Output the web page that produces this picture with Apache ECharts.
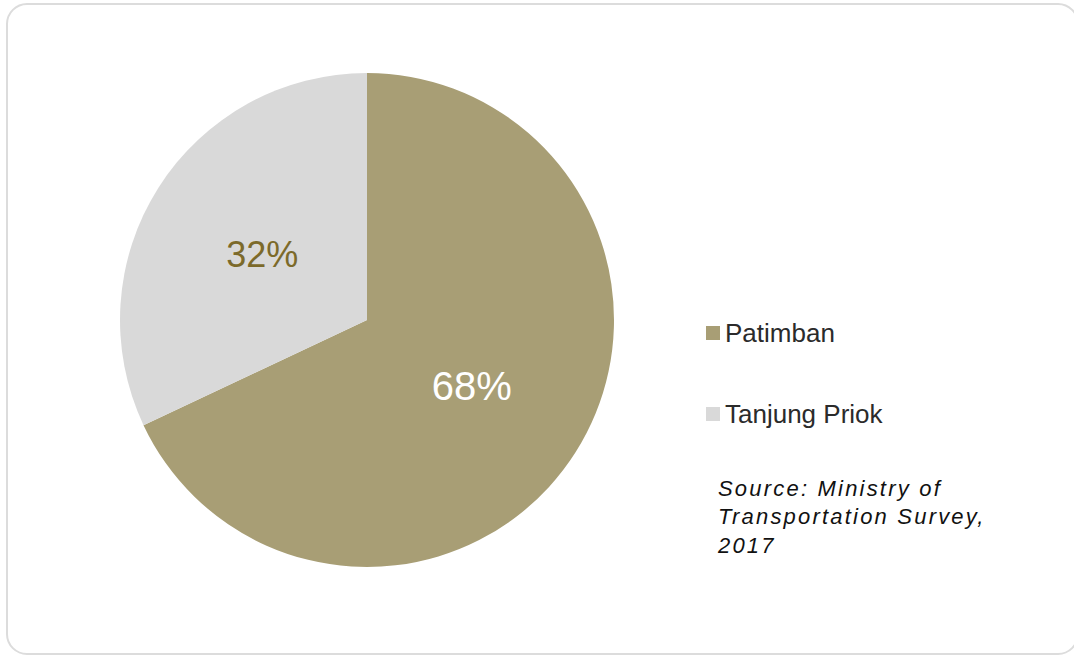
<!DOCTYPE html>
<html>
<head>
<meta charset="utf-8">
<script src="https://cdn.jsdelivr.net/npm/echarts@6/dist/echarts.min.js"></script>
<style>
html,body{margin:0;padding:0;background:#fff;}
#chart{width:1074px;height:655px;}
</style>
</head>
<body>
<div id="chart"></div>
<script>
const categories = ['Patimban', 'Tanjung Priok'];
const values = [68, 32];
const colors = ['#A89E75', '#D9D9D9'];
const labelColors = ['#FFFFFF', '#7C6A2A'];
const labelSizes = [40, 36];
const sourceLines = ['Source: Ministry of', 'Transportation Survey,', '2017'];

const chart = echarts.init(document.getElementById('chart'), null, {renderer: 'svg'});
const FONT = '"Liberation Sans", Arial, Helvetica, sans-serif';

const data = categories.map((c, i) => ({
  name: c,
  value: values[i],
  itemStyle: {color: colors[i]},
  label: {color: labelColors[i], fontSize: labelSizes[i], offset: i === 1 ? [2, 2] : [-2, -2]}
}));

const option = {
  animation: false,
  backgroundColor: '#fff',
  legend: {
    orient: 'vertical',
    left: 706,
    top: 320,
    padding: 0,
    itemWidth: 14,
    itemHeight: 14,
    itemGap: 55,
    itemTextGap: 6,
    icon: 'rect',
    data: categories,
    textStyle: {fontFamily: FONT, fontSize: 26, color: '#2b2b2b'}
  },
  graphic: [
    {
      type: 'rect',
      shape: {x: 7, y: 4, width: 1071, height: 650, r: 20},
      style: {fill: 'none', stroke: '#DCDCDC', lineWidth: 2},
      silent: true
    },
    ...sourceLines.map((t, i) => ({
      type: 'text',
      left: 718,
      top: 477 + i * 28.5,
      style: {
        text: t,
        font: 'italic 22px ' + FONT,
        fill: '#111'
      }
    }))
  ],
  series: [{
    type: 'pie',
    center: [367, 320],
    radius: [0, 247],
    startAngle: 90,
    clockwise: true,
    label: {
      show: true,
      position: 'inside',
      formatter: '{d}%',
      fontFamily: FONT
    },
    labelLine: {show: false},
    emphasis: {disabled: true},
    data: data
  }]
};
chart.setOption(option);

// widen the letter spacing of the source note, as in the reference
function spaceSource() {
  document.querySelectorAll('#chart text').forEach(el => {
    if (sourceLines.includes(el.textContent)) {
      el.setAttribute('letter-spacing', '2.2px');
    }
  });
}
spaceSource();
chart.on('finished', spaceSource);
</script>
</body>
</html>
